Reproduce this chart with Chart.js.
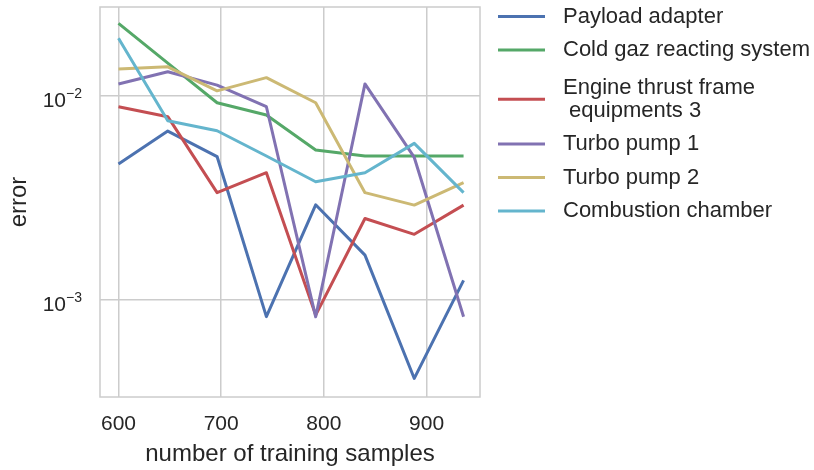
<!DOCTYPE html>
<html>
<head>
<meta charset="utf-8">
<script src="https://cdn.jsdelivr.net/npm/chart.js@4.4.1/dist/chart.umd.min.js"></script>
<style>
  html, body { margin: 0; padding: 0; background: #ffffff; }
  #wrap { width: 814px; height: 470px; }
</style>
</head>
<body>
<div id="wrap"><canvas id="chart" width="814" height="470"></canvas></div>
<script>
// training set sizes on the x axis
const samples = [600, 648, 696, 744, 792, 840, 888, 936];

// error per component
const payloadAdapter = [4.64e-3, 6.73e-3, 5.05e-3, 8.3e-4, 2.93e-3, 1.66e-3, 4.13e-4, 1.25e-3];
const coldGaz = [2.27e-2, 1.45e-2, 9.27e-3, 8.07e-3, 5.44e-3, 5.08e-3, 5.08e-3, 5.08e-3];
const engineFrame = [8.86e-3, 7.92e-3, 3.36e-3, 4.21e-3, 8.44e-4, 2.51e-3, 2.10e-3, 2.92e-3];
const turboPump1 = [1.146e-2, 1.315e-2, 1.13e-2, 8.86e-3, 8.28e-4, 1.146e-2, 5.0e-3, 8.28e-4];
const turboPump2 = [1.355e-2, 1.39e-2, 1.06e-2, 1.23e-2, 9.27e-3, 3.36e-3, 2.92e-3, 3.76e-3];
const combustion = [1.92e-2, 7.57e-3, 6.76e-3, 5.08e-3, 3.80e-3, 4.21e-3, 5.86e-3, 3.36e-3];

const seriesNames = [
  'Payload adapter',
  'Cold gaz reacting system',
  'Engine thrust frame\n equipments 3',
  'Turbo pump 1',
  'Turbo pump 2',
  'Combustion chamber'
];
const seriesValues = [payloadAdapter, coldGaz, engineFrame, turboPump1, turboPump2, combustion];
const colors = ['#4C72B0', '#55A868', '#C44E52', '#8172B2', '#CCB974', '#64B5CD'];

const xTicks = [600, 700, 800, 900];
const yTicks = [1e-3, 1e-2];
const yMin = 3.35e-4;
const yMax = 2.73e-2;

const FONT = "'Liberation Sans', Arial, sans-serif";
const TEXT = '#262626';
const GRID = '#cccccc';

const datasets = seriesValues.map((vals, i) => ({
  label: seriesNames[i],
  data: vals.map((v, j) => ({ x: samples[j], y: v })),
  borderColor: colors[i],
  backgroundColor: colors[i],
  borderWidth: 3,
  borderJoinStyle: 'round',
  pointRadius: 0,
  tension: 0,
  fill: false,
  order: seriesValues.length - i   // later series on top
}));

// frame around the plot area
const framePlugin = {
  id: 'frame',
  beforeDatasetsDraw(chart) {
    const { ctx, chartArea: a } = chart;
    ctx.save();
    ctx.strokeStyle = GRID;
    ctx.lineWidth = 1.5;
    ctx.strokeRect(a.left, a.top, a.right - a.left, a.bottom - a.top);
    ctx.restore();
  }
};

// y labels as 10 with a raised exponent
const powerLabels = {
  id: 'powerLabels',
  afterDraw(chart) {
    const { ctx } = chart;
    const y = chart.scales.y;
    ctx.save();
    ctx.fillStyle = TEXT;
    ctx.textBaseline = 'alphabetic';
    y.ticks.forEach(t => {
      const py = y.getPixelForValue(t.value);
      const exp = '\u2212' + Math.abs(Math.round(Math.log10(t.value)));
      ctx.font = '14px ' + FONT;
      const ew = ctx.measureText(exp).width;
      const right = y.right - 18;
      ctx.fillText(exp, right - ew, py + 1.5);
      ctx.font = '21px ' + FONT;
      const bw = ctx.measureText('10').width;
      ctx.fillText('10', right - ew - bw, py + 10.5);
    });
    ctx.restore();
  }
};

// legend outside the plot on the right
const sideLegend = {
  id: 'sideLegend',
  afterDraw(chart) {
    const { ctx, chartArea: a } = chart;
    const x0 = a.right + 18;
    const lineLen = 47;
    const textX = a.right + 83;
    const rowH = 33.5;
    const lineH = 23;     // spacing of text lines inside one entry
    const extraH = 27;    // added row height per extra line
    let cy = 16.5;
    ctx.save();
    ctx.font = '22px ' + FONT;
    ctx.textBaseline = 'middle';
    chart.data.datasets.forEach((ds, i) => {
      const lines = ds.label.split('\n');
      const extra = (lines.length - 1) * extraH;
      if (i > 0) cy += rowH + extra * 0.585;
      ctx.strokeStyle = ds.borderColor;
      ctx.lineWidth = 3;
      ctx.beginPath();
      ctx.moveTo(x0, cy);
      ctx.lineTo(x0 + lineLen, cy);
      ctx.stroke();
      ctx.fillStyle = TEXT;
      const span = (lines.length - 1) * lineH;
      lines.forEach((ln, k) => {
        ctx.fillText(ln, textX, cy - span / 2 + k * lineH);
      });
      cy += extra * 0.415;
    });
    ctx.restore();
  }
};

new Chart(document.getElementById('chart'), {
  type: 'line',
  data: { datasets },
  options: {
    responsive: false,
    animation: false,
    devicePixelRatio: 1,
    layout: { padding: { top: 7, right: 334, left: 0, bottom: 0 } },
    plugins: {
      legend: { display: false },
      tooltip: { enabled: false }
    },
    scales: {
      x: {
        type: 'linear',
        min: 582,
        max: 952,
        afterBuildTicks: s => { s.ticks = xTicks.map(v => ({ value: v })); },
        afterFit: s => { s.height = 73; },
        grid: { color: GRID, lineWidth: 1.5, drawTicks: false },
        border: { display: false },
        ticks: {
          color: TEXT,
          padding: 15,
          maxRotation: 0,
          font: { family: FONT, size: 21 }
        },
        title: {
          display: true,
          text: 'number of training samples',
          color: TEXT,
          font: { family: FONT, size: 24 },
          padding: { top: 0, bottom: 1 }
        }
      },
      y: {
        type: 'logarithmic',
        min: yMin,
        max: yMax,
        bounds: 'data',
        afterBuildTicks: s => {
          s.ticks = yTicks.map(v => ({ value: v }));
          s.min = yMin;
          s.max = yMax;
        },
        afterFit: s => { s.width = 100; },
        grid: { color: GRID, lineWidth: 1.5, drawTicks: false },
        border: { display: false },
        ticks: { display: false },
        title: {
          display: true,
          text: 'error',
          color: TEXT,
          font: { family: FONT, size: 24 },
          padding: { top: 5, bottom: 0 }
        }
      }
    }
  },
  plugins: [framePlugin, powerLabels, sideLegend]
});
</script>
</body>
</html>
